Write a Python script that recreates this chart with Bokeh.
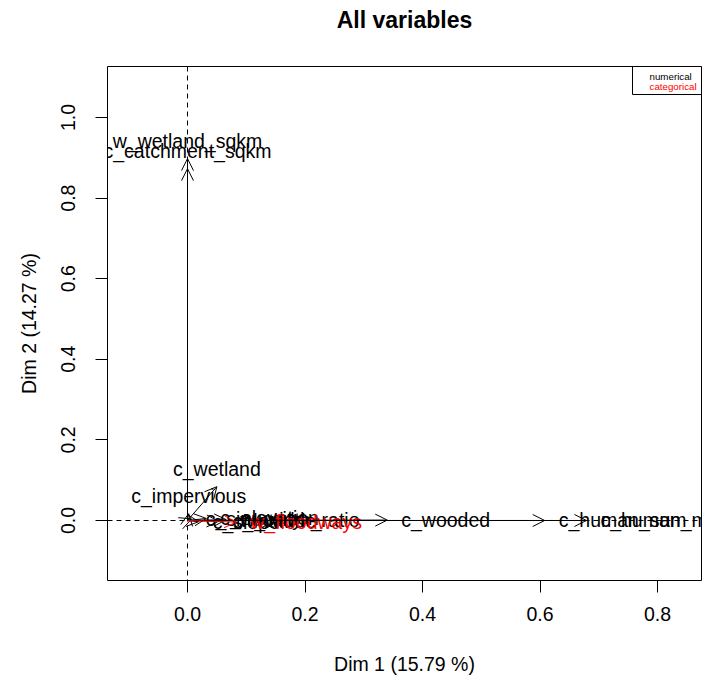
import numpy as np
from bokeh.plotting import figure
from bokeh.models import (ColumnDataSource, Arrow, OpenHead, Span, BoxAnnotation,
                          Label, FixedTicker, Range1d, PrintfTickFormatter, Title)
from bokeh.core.properties import value
from bokeh.embed import file_html
from bokeh.resources import INLINE

# ---------------- data ----------------
num_names = ["w_wetland_sqkm", "c_catchment_sqkm", "c_wetland", "c_impervious",
             "c_wooded", "c_human_sum", "c_human_mean",
             "c_sinuosity", "c_slope", "c_elevation", "c_latitude", "w_width_ratio"]
num_dim1 = [0.000, 0.000, 0.050, 0.002, 0.340, 0.608, 0.679,
            0.007, 0.019, 0.032, 0.053, 0.066]
num_dim2 = [0.898, 0.873, 0.084, 0.017, 0.001, 0.000, 0.000,
            0.004, -0.003, 0.005, -0.002, 0.002]

cat_names = ["w_floodways"]
cat_dim1 = [0.083]
cat_dim2 = [-0.004]

x_ticks = [0.0, 0.2, 0.4, 0.6, 0.8]
y_ticks = [0.0, 0.2, 0.4, 0.6, 0.8, 1.0]
x_lim = (-0.1362, 0.8749)
y_lim = (-0.1489, 1.1266)

title_text = "All variables"
x_title = "Dim 1 (15.79 %)"
y_title = "Dim 2 (14.27 %)"
legend_labels = ["numerical", "categorical"]
legend_colors = ["black", "red"]

FONT = "Liberation Sans"
FS = "19.5px"

# ---------------- figure ----------------
W, H = 704, 681
ML, MR, MT, MB = 107, 3, 66, 101
p = figure(width=W, height=H, output_backend="svg", toolbar_location=None,
           x_range=Range1d(*x_lim), y_range=Range1d(*y_lim),
           min_border_left=ML, min_border_right=MR, min_border_top=MT,
           min_border_bottom=MB)
p.background_fill_color = "white"
p.border_fill_color = "white"
p.outline_line_color = "black"
p.outline_line_width = 1
p.outline_line_alpha = 1
p.xgrid.visible = False
p.ygrid.visible = False

# blank spacer panel between the plotting region and the title
p.add_layout(Title(text=" ", text_font_size="10px", standoff=17), "above")

p.title.text = title_text
p.title.align = "center"
p.title.text_font = FONT
p.title.text_font_size = "23px"
p.title.text_font_style = "bold"
p.title.text_color = "black"
p.title.vertical_align = "bottom"
p.title.standoff = 7

for ax, ticks, lab in ((p.xaxis[0], x_ticks, x_title), (p.yaxis[0], y_ticks, y_title)):
    ax.ticker = FixedTicker(ticks=ticks)
    ax.formatter = PrintfTickFormatter(format="%.1f")
    ax.minor_tick_line_color = None
    ax.major_tick_in = 0
    ax.major_tick_out = 12
    ax.major_tick_line_color = "black"
    ax.axis_line_color = None
    ax.major_label_text_font = FONT
    ax.major_label_text_font_size = FS
    ax.major_label_text_color = "black"
    ax.axis_label = lab
    ax.axis_label_text_font = FONT
    ax.axis_label_text_font_size = FS
    ax.axis_label_text_font_style = "normal"
    ax.axis_label_text_color = "black"

p.xaxis.major_label_standoff = 14
p.xaxis.axis_label_standoff = 29
p.yaxis.major_label_orientation = "vertical"
p.yaxis.major_label_standoff = 20
p.yaxis.axis_label_standoff = 19

# dashed reference lines
for dim in ("width", "height"):
    p.add_layout(Span(location=0, dimension=dim, line_color="black",
                      line_width=1, line_dash="5 4", level="underlay"))


def make_source(names, xs, ys):
    align, base, xo, yo = [], [], [], []
    for x, y in zip(xs, ys):
        if abs(y) > abs(x):
            align.append("center"); base.append("bottom"); xo.append(0); yo.append(-7)
        else:
            align.append("left"); base.append("middle"); xo.append(14); yo.append(0)
    return ColumnDataSource(dict(name=names, x=xs, y=ys, x0=[0.0] * len(xs),
                                 y0=[0.0] * len(ys), align=align, base=base,
                                 xo=xo, yo=yo))


for names, xs, ys, col in ((num_names, num_dim1, num_dim2, "black"),
                           (cat_names, cat_dim1, cat_dim2, "red")):
    src = make_source(names, xs, ys)
    p.add_layout(Arrow(source=src, x_start="x0", y_start="y0", x_end="x", y_end="y",
                       line_color=col, line_width=1,
                       end=OpenHead(size=12, line_color=col, line_width=1)))
    p.text(x="x", y="y", text="name", source=src, text_color=col,
           text_font=value(FONT), text_font_size=FS,
           text_align="align", text_baseline="base",
           x_offset="xo", y_offset="yo")

# pixel <-> data conversion of the plotting region (for legend placement)
fw = W - ML - MR
fh = H - MT - MB
ppx = fw / (x_lim[1] - x_lim[0])
ppy = fh / (y_lim[1] - y_lim[0])

# legend box in the top-right corner of the plotting region
p.add_layout(BoxAnnotation(left=x_lim[1] - 69 / ppx, right=x_lim[1],
                           top=y_lim[1], bottom=y_lim[1] - 28 / ppy,
                           fill_color=None, fill_alpha=0, line_color="black",
                           line_alpha=1, line_width=1))
for i, (t, c) in enumerate(zip(legend_labels, legend_colors)):
    p.add_layout(Label(x=x_lim[1] - 52 / ppx, y=y_lim[1] - (10 + 9.5 * i) / ppy,
                       text=t, text_color=c, text_font=FONT,
                       text_font_size="9.75px", text_baseline="middle",
                       text_align="left"))

open("out.html", "w").write(file_html(p, INLINE))
